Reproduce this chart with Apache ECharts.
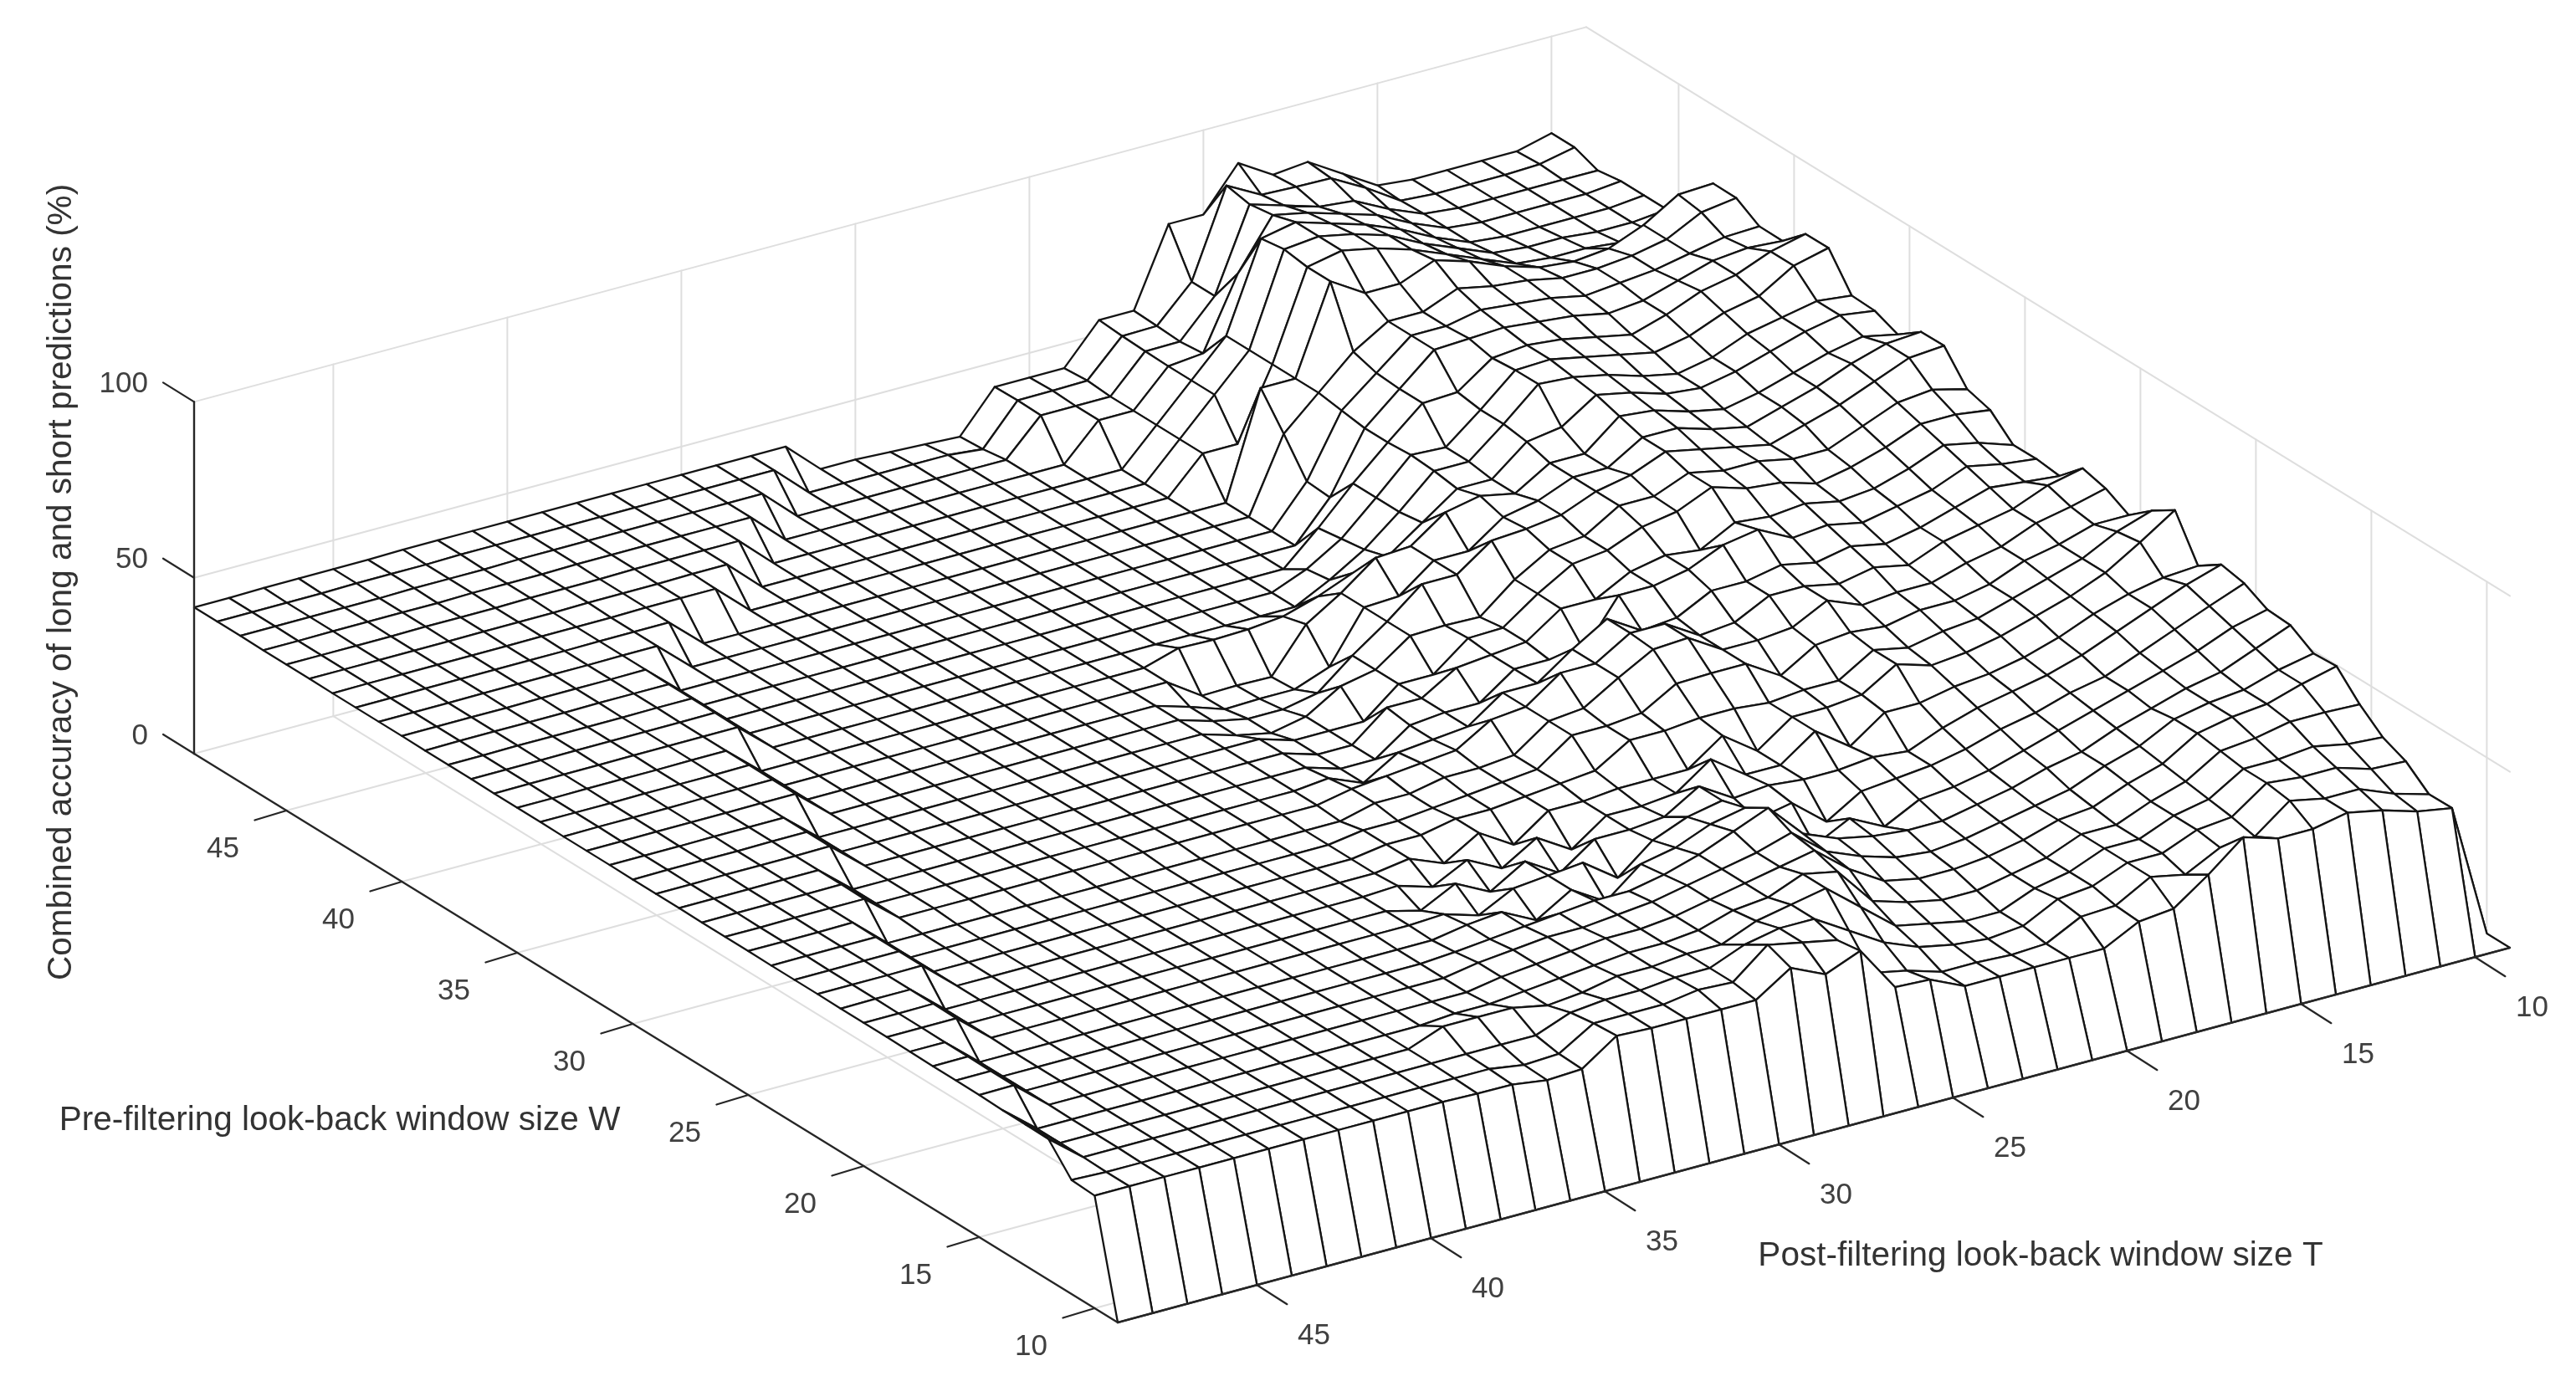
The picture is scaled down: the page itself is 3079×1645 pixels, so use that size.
<!DOCTYPE html>
<html><head><meta charset="utf-8">
<style>html,body{margin:0;padding:0;background:#fff}#c{width:3079px;height:1645px}</style>
<script src="https://cdn.jsdelivr.net/npm/echarts@6/dist/echarts.min.js"></script>
</head><body><div id="c"></div><script>
const tValues=[9,10,11,12,13,14,15,16,17,18,19,20,21,22,23,24,25,26,27,28,29,30,31,32,33,34,35,36,37,38,39,40,41,42,43,44,45,46,47,48,49];
const wValues=[9,10,11,12,13,14,15,16,17,18,19,20,21,22,23,24,25,26,27,28,29,30,31,32,33,34,35,36,37,38,39,40,41,42,43,44,45,46,47,48,49];
const tTicks=[10,15,20,25,30,35,40,45];
const wTicks=[10,15,20,25,30,35,40,45];
const zTicks=[0,50,100];
const zAxisTitle="Combined accuracy of long and short predictions (%)";
const wAxisTitle="Pre-filtering look-back window size W";
const tAxisTitle="Post-filtering look-back window size T";
// accuracy per W row, in T order 9..49
const zW49=[0,72.5,70,70,70,70,71,77,83,82,88,76,76,54,54,43,43,43,31.5,32,32.5,33,33,42,42,42,42,42,42,42,42,42,42,42,42,41.8,41.8,41.8,41.8,41.6,41.6];
const zW48=[0,72.5,70.4,70,70,70,70.7,77,82.4,82.6,83,88.3,63.6,53.7,53.5,43.5,43.3,43.2,32,33,33,33,33,33,42,42,42,42,42,42,42,42,42,42,41.8,41.8,41.8,41.6,41.6,41.6,41.6];
const zW47=[0,70,70,70,70,70,71,75,80,81,84,87,63.6,53.3,53.2,43,43,43,33,33,33,33,33,33,33,42,42,42,42,42,42,42,42,41.8,41.8,41.8,41.6,41.6,41.6,41.6,41.6];
const zW46=[0,71,70,70,70,70,71,75,80,83,86,88,74,54,53,43,43,33,33,33,33,33,33,33,33,33,42,42,42,42,42,42,41.8,41.8,41.8,41.6,41.6,41.6,41.6,41.5,41.5];
const zW45=[0,71,70,70,70,70,71,75,80,84,87,90,88,63,53,43,33,33,33,33,33,33,33,33,33,33,33,42,42,42,42,41.8,41.8,41.8,41.6,41.6,41.6,41.5,41.5,41.5,41.5];
const zW44=[0,71,70,70,71,71,72,76,80,85,88,90,89,63,53,43,33,33,33,33,33,33,33,33,33,33,33,33,42,42,41.8,41.8,41.8,41.6,41.6,41.6,41.5,41.5,41.5,41.5,41.5];
const zW43=[0,69,71,71,72,72,73,77,81,85,88,90,88,63,43,43,33,33,33,33,33,33,33,33,33,33,33,33,33,41.8,41.8,41.8,41.6,41.6,41.6,41.5,41.5,41.5,41.5,41.5,41.4];
const zW42=[0,86.5,86,80,76,75,76,79,83,86,82,82,88,63,63,33,33,33,33,33,33,33,33,33,33,33,33,33,33,33,33,41.6,41.6,41.6,41.5,41.5,41.5,41.5,41.5,41.4,41.4];
const zW41=[0,86.4,85,80,78,77,77,79,80,82,78,78,72,63,54,33,33,33,33,33,33,33,33,33,33,33,33,33,33,33,33,33,41.6,41.6,41.5,41.5,41.5,41.5,41.4,41.4,41.4];
const zW40=[0,82.4,82,80,78,77,76,78,79,80,78,78,70,62,44.5,33,33,33,33,33,33,33,33,33,33,33,33,33,33,33,33,33,33,41.6,41.5,41.5,41.5,41.4,41.4,41.4,41.4];
const zW39=[0,82.3,83,82,79,76,75,77,78,79,78.5,78,69.5,61,44,33,33,33,33,33,33,33,33,33,33,33,33,33,33,33,33,33,33,41.5,41.5,41.5,41.4,41.4,41.4,41.4,41.3];
const zW38=[0,88.3,86,82,80,76,73,75,77,78,77,70,69.5,61,52,42,33,33,33,33,33,33,33,33,33,33,33,33,33,33,33,33,33,41.5,41.5,41.4,41.4,41.4,41.4,41.3,41.3];
const zW37=[0,88.4,86,80,78,74,72,74,76,78,77.6,69,61,61.5,52,43,37,33,33,33,33,33,33,33,33,33,33,33,33,33,33,33,33,41.5,41.4,41.4,41.4,41.4,41.3,41.3,41.3];
const zW36=[0,78.9,80,78,76,72,70,72,75,77,77.7,69,61,61,52,44,38,33,33,33,33,33,33,33,33,33,33,33,33,33,33,33,33,41.4,41.4,41.4,41.4,41.3,41.3,41.3,41.2];
const zW35=[0,78.6,80,78,75,72,70,71,74,76,69.5,68,60,60,53,46,44,40,37,36,35.7,36,33,33,33,33,33,33,33,33,33,33,33,33,41.4,41.4,41.3,41.3,41.3,41.2,41.2];
const zW34=[0,75.9,78,76,73,70,68,70,73,74,66,66,60,62,60,53,52.4,45,38.8,26.5,26.7,26.5,33,33,33,33,33,33,33,33,33,33,33,33,41.4,41.3,41.3,41.3,41.2,41.2,41.2];
const zW33=[0,80.7,80,77,73,70,67,69,72,72,66,66,62,60,53,53,45.5,45,30.7,27,27,26.7,30,33,33,33,33,33,33,33,33,33,33,33,41.3,41.3,41.3,41.2,41.2,41.2,41.1];
const zW32=[0,80.8,80,76,72,69,66,68,70,72,68,66,62,60.7,60,53,53,45,38,30,28,28,30,33,33,33,33,33,33,33,33,33,33,33,41.3,41.3,41.2,41.2,41.2,41.1,41.1];
const zW31=[0,72.5,75,74,70,66,66,68,68,70,66,66,60,58.8,53,45,45.3,45,38,36,30,28,30,33,33,33,33,33,33,33,33,33,33,33,33,41.2,41.2,41.2,41.1,41.1,41.1];
const zW30=[0,70.6,72,72,68,65,63,66,67,70,65.7,64,60,58.8,53,46,45.7,38,38,30,30,30,33,33,33,33,33,33,33,33,33,33,33,33,33,41.2,41.2,41.1,41.1,41.1,41];
const zW29=[0,64.7,68,70,66,63,62,64,63,64,58.8,60,58,52.8,52.8,46,45,44,38,38,30,30,33,33,33,33,33,33,33,33,33,33,33,33,33,41.2,41.1,41.1,41.1,41,41];
const zW28=[0,64.8,66,68,64,62,60,62,61,66,64.3,60,58,58,45,45,45,38,38,37,30,30,33,33,33,33,33,33,33,33,33,33,33,33,33,33,41.1,41.1,41,41,41];
const zW27=[0,64,65,66,63,60,58,60,58,60,58,58,53,52,58,52,45,45,38,37,36,30,34,33,33,33,33,33,33,33,33,33,33,33,33,33,41.1,41,41,41,40.9];
const zW26=[0,70.2,68,64,62,60,56,58,56,58,58,53,52,58,58,52,52,45,44,38,37,36,35,33,33,33,33,33,33,33,33,33,33,33,33,33,41,41,41,40.9,40.9];
const zW25=[0,68.5,66,64,60,58,55,55,54,58,53,52,52,58,57.4,52,46,45,38,37,37,35,35,32.5,32.5,32.5,32.5,32.5,32.5,32.5,32.5,32.5,32.5,32.5,32.5,32.5,32.5,41,40.9,40.9,40.9];
const zW24=[0,65,65,62,60,56,54,54,52,53,52,46,52,52,51.7,46,45,45,38,37,36,35,34,34,32.5,32.5,32.5,32.5,32.5,32.5,32.5,32.5,32.5,32.5,32.5,32.5,32.5,40.9,40.9,40.9,40.8];
const zW23=[0,70.3,67,62,59,56,53,52,50,52,46,46,45,46,46,45,45,39,38,37,36,36,34,34,32.5,32.5,32.5,32.5,32.5,32.5,32.5,32.5,32.5,32.5,32.5,32.5,32.5,40.9,40.9,40.8,40.8];
const zW22=[0,74.5,68,62,58,55,52,50,49,52,46,45,45,38,45,38,38,38,37,37,30,36,30,34,32.5,32.5,32.5,32.5,32.5,32.5,32.5,32.5,32.5,32.5,32.5,32.5,32.5,40.9,40.8,40.8,40.8];
const zW21=[0,62.7,62,60,57,53,50,48,47,45,45,38,45,38,38,45,38,37,37,30,36,30,35,30,33,32.5,32.5,32.5,32.5,32.5,32.5,32.5,32.5,32.5,32.5,32.5,32.5,32.5,40.8,40.8,40.7];
const zW20=[0,67.1,64,60,56,52,49,47,45,42,38,39,38,38,39,38,44,38,37,37,30,36,30,35,30,32.5,32.5,32.5,32.5,32.5,32.5,32.5,32.5,32.5,32.5,32.5,32.5,32.5,40.8,40.7,40.7];
const zW19=[0,65.8,62,58,54,50,48,45,43,40,38,37,36,30,38,36,44,42,38,30,37,36,35,30,33,32.5,32.5,32.5,32.5,32.5,32.5,32.5,32.5,32.5,32.5,32.5,32.5,32.5,40.7,40.7,40.7];
const zW18=[0,62.4,60,56,53,50,47,44,41,38,36,35,30,35,30,37,46,44,40,38,30,36,30,35,34,32.3,32.3,32.3,32.3,32.3,32.3,32.3,32.3,32.3,32.3,32.3,32.3,32.3,32.3,40.6,40.6];
const zW17=[0,62,58,54,52,49,46,42,40,37,35,33,33,34,36,40,50,46,42,39,37,37,36,35,34,33,32.3,32.3,32.3,32.3,32.3,32.3,32.3,32.3,32.3,32.3,32.3,32.3,32.3,40.6,40.5];
const zW16=[0,58,56,53,52,50,45,42,38,36,34,32,31,32,35,39,47,44,42,40,38,37,36,36,35,34,32.3,32.3,32.3,32.3,32.3,32.3,32.3,32.3,32.3,32.3,32.3,32.3,32.3,40.5,40.5];
const zW15=[0,58.4,56,53,52,50,44,41,37,36,33,31,30,30,32,38,46,44,42,40,38,37,37,36,35,34,32.3,32.3,32.3,32.3,32.3,32.3,32.3,32.3,32.3,32.3,32.3,32.3,32.3,40.5,40.4];
const zW14=[0,51.6,52,52,50,49,43,40,36,36,32,30,28,28,30,33,44,46,42,41,38,37,37,36,35,34,33,33,32.2,32.2,32.2,32.2,32.2,32.2,32.2,32.2,32.2,32.2,32.2,32.2,40.2];
const zW13=[0,46.3,47,49,48,48,42,40,36,36,32,30,26,26,28,30,38,46,44,42,38,38,37,37,35,34,36,36,36,32.2,32.2,32.2,32.2,32.2,32.2,32.2,32.2,32.2,32.2,32.2,40.1];
const zW12=[0,43.5,44,47,47,48,41,40,36,36,32,31,26,25,26,28,32,38,44,44,42,38,38,37,37,36,32.2,32.2,32.2,32.2,32.2,32.2,32.2,32.2,32.2,32.2,32.2,32.2,32.2,32.2,40];
const zW11=[0,38.2,41,45,45,47,39.5,39,34,36,30.5,30,25,24.5,25,25,28,30,42,44,46,38,38.5,37,37,37,31,30.5,32,32,32,32,32,32,32,32,32,32,32,32,32.4];
const zW10=[0,38.3,40,43,45,43,43,46,38,31,30,25,25,25,25,25,29.5,30,43,39,43.5,37,37,37,37,37.5,30.7,30.2,31.6,31.7,32,32,32,32,32,32,32,32,32,32,32];
const zW9=[0,0,0,0,0,0,0,0,0,0,0,0,0,0,0,0,0,0,0,0,0,0,0,0,0,0,0,0,0,0,0,0,0,0,0,0,0,0,0,0,0];
const zRows=[zW9,zW10,zW11,zW12,zW13,zW14,zW15,zW16,zW17,zW18,zW19,zW20,zW21,zW22,zW23,zW24,zW25,zW26,zW27,zW28,zW29,zW30,zW31,zW32,zW33,zW34,zW35,zW36,zW37,zW38,zW39,zW40,zW41,zW42,zW43,zW44,zW45,zW46,zW47,zW48,zW49];

// orthographic camera: data (T,W,z) -> page units used by the hidden axes
const cam={x0:1336,y0:1581,tx:41.6,ty:11.2,wx:27.6,wy:17.0,zy:4.206,tMax:49,wMin:9};
function project(T,W,z){
  const a=cam.tMax-T,b=W-cam.wMin;
  return [cam.x0+cam.tx*a-cam.wx*b, cam.y0-cam.ty*a-cam.wy*b-cam.zy*z];
}
const tMin=tValues[0],tMax=tValues[tValues.length-1],wMin=wValues[0],wMax=wValues[wValues.length-1];

// painter's order: far rows first
const cells=[];
for(let j=wValues.length-2;j>=0;j--)for(let i=0;i<tValues.length-1;i++)cells.push([i,j]);

// faint box grid
const grid=[];
zTicks.forEach(z=>{grid.push([tMin,wMax,z,tMax,wMax,z]);grid.push([tMin,wMax,z,tMin,wMin,z]);});
tTicks.forEach(t=>{grid.push([t,wMax,0,t,wMax,100]);grid.push([t,wMax,0,t,wMin,0]);});
wTicks.forEach(w=>{grid.push([tMin,w,0,tMin,w,100]);grid.push([tMin,w,0,tMax,w,0]);});

const axisSegs=[[tMax,wMin,0,tMax,wMax,0],[tMin,wMin,0,tMax,wMin,0],[tMax,wMax,0,tMax,wMax,100]];
const tick={t:[36,23],w:[-38,11.5],z:[-37,-23]};
const ticks=[];
tTicks.forEach(t=>ticks.push({p:[t,wMin,0],d:tick.t,o:[68,61],s:String(t),a:'center'}));
wTicks.forEach(w=>ticks.push({p:[tMax,w,0],d:tick.w,o:[-76,46],s:String(w),a:'center'}));
zTicks.forEach(z=>ticks.push({p:[tMax,wMax,z],d:tick.z,o:[-55,-21],s:String(z),a:'right'}));

const titles=[
 {s:zAxisTitle,x:74,y:696,rot:Math.PI/2},
 {s:wAxisTitle,x:406,y:1340,rot:0},
 {s:tAxisTitle,x:2439,y:1502,rot:0}
];
const FONT='"Liberation Sans",Arial,sans-serif';
const INK='#262626', LINE='#141414', FAINT='#dedede', TXT='#404040';

function lineEl(api,a,b,color,w){
  const p=api.coord(a),q=api.coord(b);
  return {type:'line',shape:{x1:p[0],y1:p[1],x2:q[0],y2:q[1]},style:{stroke:color,lineWidth:w,lineCap:'round'},silent:true};
}
const chart=echarts.init(document.getElementById('c'),null,{renderer:'canvas'});
const common={type:'custom',coordinateSystem:'cartesian2d',clip:false,silent:true,animation:false,progressive:0,encode:{x:0,y:1}};
chart.setOption({
  backgroundColor:'#fff',animation:false,tooltip:{show:false},
  grid:{left:0,top:0,right:0,bottom:0,containLabel:false},
  xAxis:{type:'value',min:0,max:3079,show:false},
  yAxis:{type:'value',min:0,max:1645,inverse:true,show:false},
  series:[
   Object.assign({},common,{name:'box grid',z:1,data:grid.map((g,i)=>[i,0]),
     renderItem:(p,api)=>{const g=grid[p.dataIndex];
       return lineEl(api,project(g[0],g[1],g[2]),project(g[3],g[4],g[5]),FAINT,2);}}),
   Object.assign({},common,{name:'surface',z:2,data:cells,
     renderItem:(p,api)=>{
       const c=cells[p.dataIndex],i=c[0],j=c[1];
       const q=[[i,j],[i+1,j],[i+1,j+1],[i,j+1]].map(k=>api.coord(project(tValues[k[0]],wValues[k[1]],zRows[k[1]][k[0]])));
       return {type:'polygon',shape:{points:q},style:{fill:'#fff',stroke:LINE,lineWidth:2.3,lineJoin:'round'},silent:true};
     }}),
   Object.assign({},common,{name:'axes',z:3,data:axisSegs.map((g,i)=>[i,0]),
     renderItem:(p,api)=>{const g=axisSegs[p.dataIndex];
       return lineEl(api,project(g[0],g[1],g[2]),project(g[3],g[4],g[5]),INK,2.4);}}),
   Object.assign({},common,{name:'ticks',z:3,data:ticks.map((g,i)=>[i,0]),
     renderItem:(p,api)=>{const k=ticks[p.dataIndex];
       const b=project(k.p[0],k.p[1],k.p[2]);
       const l=api.coord([b[0]+k.o[0],b[1]+k.o[1]]);
       return {type:'group',children:[
         lineEl(api,b,[b[0]+k.d[0],b[1]+k.d[1]],INK,2.2),
         {type:'text',x:l[0],y:l[1],silent:true,style:{text:k.s,fontFamily:FONT,fontSize:35,fill:TXT,align:k.a,verticalAlign:'middle'}}
       ]};
     }}),
   Object.assign({},common,{name:'titles',z:4,data:titles.map((g,i)=>[i,0]),
     renderItem:(p,api)=>{const t=titles[p.dataIndex];const l=api.coord([t.x,t.y]);
       return {type:'text',x:l[0],y:l[1],rotation:t.rot,silent:true,style:{text:t.s,fontFamily:FONT,fontSize:40.5,fill:'#333333',align:'center',verticalAlign:'middle'}};
     }})
  ]
});
</script></body></html>
